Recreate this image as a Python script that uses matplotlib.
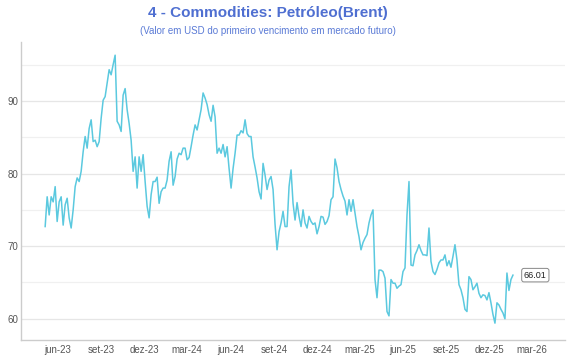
import matplotlib
matplotlib.use("Agg")
import matplotlib.pyplot as plt
import matplotlib.dates as mdates
from matplotlib.ticker import MultipleLocator
import pandas as pd

# Brent front-month close (USD)
start_date = "2023-05-05"
end_date = "2026-01-20"
brent = [
    72.7, 76.8, 74.3, 76.8, 76.1, 78.2, 73.4, 76.1, 76.8, 72.9,
    75.7, 76.6, 73.9, 72.5, 75.0, 78.2, 79.4, 78.9, 80.3, 83.0,
    85.1, 83.5, 86.2, 87.4, 84.4, 84.6, 83.7, 84.4, 87.6, 90.1,
    90.6, 92.4, 94.3, 93.6, 95.0, 96.3, 87.2, 86.7, 85.8, 90.8,
    91.7, 88.8, 86.9, 84.6, 80.3, 82.3, 78.0, 82.3, 80.3, 82.6,
    78.9, 75.5, 73.9, 77.1, 78.9, 78.9, 79.5, 75.9, 77.5, 78.0,
    78.0, 79.1, 81.7, 83.0, 78.4, 79.6, 82.0, 82.8, 82.6, 83.5,
    83.5, 81.9, 82.2, 83.7, 85.3, 86.7, 86.0, 87.4, 88.8, 91.1,
    90.4, 89.5, 88.1, 87.2, 89.4, 87.8, 82.8, 83.5, 82.8, 84.0,
    82.3, 83.7, 80.7, 78.0, 80.7, 82.8, 85.3, 85.3, 85.9, 85.6,
    87.4, 85.5, 85.1, 85.1, 82.3, 80.9, 79.4, 77.5, 76.5, 81.4,
    79.8, 77.8, 79.1, 79.6, 77.8, 73.0, 69.5, 72.0, 73.2, 74.8,
    72.7, 72.7, 78.2, 80.5, 75.9, 73.6, 76.0, 74.1, 72.7, 75.0,
    73.2, 72.5, 74.1, 73.4, 73.0, 73.2, 71.7, 72.7, 74.1, 74.0,
    73.0, 73.4, 74.2, 76.4, 76.8, 82.0, 80.8, 78.9, 77.8, 76.9,
    76.2, 74.3, 76.4, 74.8, 76.4, 74.5, 72.7, 71.3, 69.5, 70.5,
    71.1, 71.6, 73.2, 74.3, 75.0, 65.4, 62.9, 66.7, 66.7, 66.5,
    65.6, 61.0, 60.4, 65.4, 64.9, 64.9, 64.2, 64.5, 64.7, 66.5,
    67.0, 74.3, 78.9, 67.4, 67.3, 68.8, 69.4, 70.2, 69.4, 68.8,
    68.8, 68.7, 72.5, 67.9, 66.5, 66.1, 66.8, 67.7, 68.1, 68.1,
    68.8, 67.3, 68.0, 67.1, 68.6, 70.2, 68.1, 64.7, 64.0, 62.9,
    61.3, 61.0, 65.8, 65.4, 64.0, 64.4, 64.9, 63.5, 62.9, 63.3,
    63.2, 62.6, 63.6, 62.2, 60.6, 59.4, 62.2, 61.9, 61.3, 60.8,
    60.0, 66.3, 63.9, 65.4, 66.01,
]
meses_pt = {3: "mar", 6: "jun", 9: "set", 12: "dez"}

dates = pd.date_range(start_date, end_date, periods=len(brent))

plt.rcParams["font.family"] = ["Liberation Sans", "DejaVu Sans"]

fig = plt.figure(figsize=(5.7, 3.6), dpi=100)
ax = fig.add_axes([0.037, 0.056, 0.954, 0.827])

ax.plot(dates, brent, color="#5bc9df", lw=1.1, zorder=3)

# last value label
ax.annotate(f"{brent[-1]:.2f}", xy=(dates[-1], brent[-1]), xytext=(11, 0),
            textcoords="offset pixels", ha="left", va="center",
            fontsize=6.5, color="#222222",
            bbox=dict(boxstyle="round,pad=0.25", fc="white", ec="#888888", lw=0.7))

ax.set_xlim(pd.Timestamp("2023-03-15"), pd.Timestamp("2026-05-10"))
ax.set_ylim(57.1, 98.1)

ax.xaxis.set_major_locator(mdates.MonthLocator(bymonth=[3, 6, 9, 12]))
ax.xaxis.set_major_formatter(plt.FuncFormatter(
    lambda v, pos: f"{meses_pt[mdates.num2date(v).month]}-{mdates.num2date(v).strftime('%y')}"))
ax.yaxis.set_major_locator(MultipleLocator(10))
ax.yaxis.set_minor_locator(MultipleLocator(5))

ax.grid(True, which="major", axis="y", color="#e6e6e6", lw=0.9)
ax.grid(True, which="minor", axis="y", color="#f0f0f0", lw=0.9)
ax.tick_params(axis="both", which="both", length=0, labelsize=7, colors="#555555", pad=4)
ax.tick_params(axis="y", pad=2)

for side in ["top", "right"]:
    ax.spines[side].set_visible(False)
for side in ["left", "bottom"]:
    ax.spines[side].set_color("#cccccc")
    ax.spines[side].set_linewidth(1.0)

fig.text(0.47, 0.965, "4 - Commodities: Petróleo(Brent)", ha="center", va="center",
         fontsize=11, fontweight="bold", color="#4f6fd1")
fig.text(0.47, 0.915, "(Valor em USD do primeiro vencimento em mercado futuro)",
         ha="center", va="center", fontsize=7, color="#5b7bd6")

fig.savefig("out.png", dpi=100)
